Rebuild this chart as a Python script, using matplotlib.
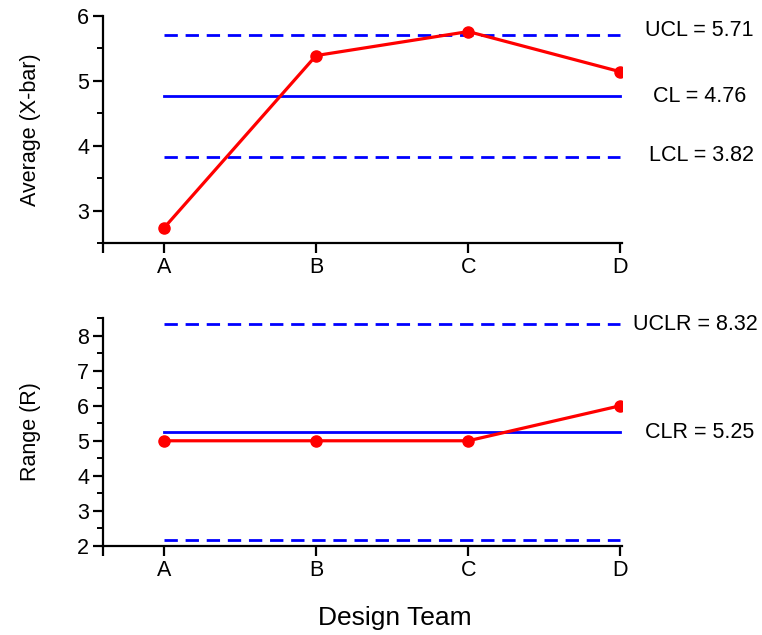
import matplotlib
matplotlib.use("Agg")
import matplotlib.pyplot as plt
from matplotlib.ticker import MultipleLocator

plt.rcParams['font.family'] = ['Liberation Sans', 'DejaVu Sans']

teams = ['A', 'B', 'C', 'D']
xbar = [2.73, 5.39, 5.76, 5.14]
ranges = [5.0, 5.0, 5.0, 6.0]
ucl, cl, lcl = 5.71, 4.76, 3.82
uclr, clr, lclr = 8.32, 5.25, 2.18

fig = plt.figure(figsize=(7.62, 6.35), dpi=100)
ax1 = fig.add_axes([103/762, 1-243/635, (622-103)/762, (243-16)/635])
ax2 = fig.add_axes([103/762, 1-546/635, (622-103)/762, (546-318)/635])

x = list(range(len(teams)))
red = '#ff0000'
blue = '#0000ff'
FS = 15.5

def style(ax, ylim, major):
    ax.set_xlim(-0.4, 3.01)
    ax.set_ylim(*ylim)
    for s in ['top', 'right']:
        ax.spines[s].set_visible(False)
    for s in ['left', 'bottom']:
        ax.spines[s].set_linewidth(1.6)
    ax.set_xticks([-0.4] + x)
    ax.set_xticklabels([''] + teams)
    ax.yaxis.set_major_locator(MultipleLocator(major))
    ax.yaxis.set_minor_locator(MultipleLocator(0.5))
    ax.tick_params(axis='both', which='major', length=7, width=1.6, labelsize=FS, pad=3)
    ax.tick_params(axis='y', which='minor', length=4, width=1.4)
    ax.tick_params(axis='x', which='minor', length=0)

def hline(ax, val, dashed):
    if dashed:
        ax.plot([x[0], x[-1]], [val, val], color=blue, lw=2.0, dashes=(4.8, 2.8))
    else:
        ax.plot([x[0], x[-1]], [val, val], color=blue, lw=2.0)

# Top: X-bar chart
hline(ax1, ucl, True)
hline(ax1, cl, False)
hline(ax1, lcl, True)
ax1.plot(x, xbar, color=red, lw=2.3, marker='o', markersize=8, zorder=3)
style(ax1, (2.5, 6.0), 1)
ax1.set_ylabel('Average (X-bar)', fontsize=FS, labelpad=26)
ax1.text(3.52, ucl + 0.06, f'UCL = {ucl:.2f}', fontsize=FS, ha='center', va='center')
ax1.text(3.52, cl + 0.0, f'CL = {cl:.2f}', fontsize=FS, ha='center', va='center')
ax1.text(3.53, lcl + 0.03, f'LCL = {lcl:.2f}', fontsize=FS, ha='center', va='center')

# Bottom: R chart
hline(ax2, uclr, True)
hline(ax2, clr, False)
hline(ax2, lclr, True)
ax2.plot(x, ranges, color=red, lw=2.3, marker='o', markersize=8, zorder=3)
style(ax2, (2.0, 8.5), 1)
ax2.set_ylabel('Range (R)', fontsize=FS, labelpad=26)
ax2.text(3.905, uclr, f'UCLR = {uclr:.2f}', fontsize=FS, ha='right', va='center')
ax2.text(3.52, clr, f'CLR = {clr:.2f}', fontsize=FS, ha='center', va='center')

fig.text(395/762, 1-618/635, 'Design Team', fontsize=19, ha='center', va='center')

fig.savefig('out.png', dpi=100)
